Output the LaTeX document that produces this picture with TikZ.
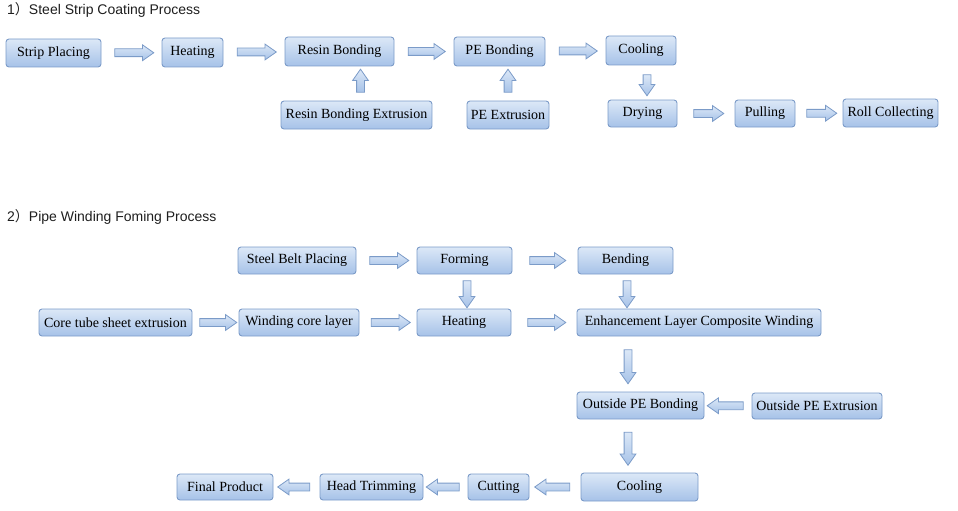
\documentclass[tikz,border=0pt]{standalone}
\usepackage{fontspec}
\setmainfont{Liberation Serif}
\newfontfamily\ttlsans{Liberation Sans}
\newfontfamily\cjk{Noto Sans CJK SC}
\usetikzlibrary{shapes.arrows,calc}
\definecolor{boxtop}{HTML}{DCE8F7}
\definecolor{boxbot}{HTML}{A6C2E8}
\definecolor{bdr}{HTML}{7B9BC8}
\definecolor{ttl}{HTML}{1E1E1E}
\tikzset{
  box/.style={draw=bdr, line width=0.9pt, rounded corners=3pt, top color=boxtop, bottom color=boxbot,
    inner sep=0pt, font=\fontsize{14pt}{16pt}\selectfont, text=black},
  barrow/.style={single arrow, draw=bdr, line width=0.8pt, top color=boxtop, bottom color=boxbot,
    inner xsep=0pt, inner ysep=3.5pt, single arrow head extend=4pt, single arrow tip angle=70,
    single arrow head indent=0pt},
  ttlstyle/.style={anchor=west, inner sep=0pt, text=ttl, font=\ttlsans\fontsize{14pt}{16pt}\selectfont},
}
\begin{document}
\begin{tikzpicture}[x=1pt,y=-1pt]
\useasboundingbox (0,0) rectangle (958,511);

% ---------- titles
\node[ttlstyle] (t1) at (7,10) {1{\cjk ）}Steel Strip Coating Process};
\node[ttlstyle] (t2) at (7,217) {2{\cjk ）}Pipe Winding Foming Process};

% ---------- part 1
\node[box, minimum width=95pt, minimum height=28pt] (sp) at (53.5,53) {Strip Placing};
\node[box, minimum width=61pt, minimum height=29pt] (heat) at (192.5,52.5) {Heating};
\node[box, minimum width=109pt, minimum height=29pt] (rb) at (339.5,51.5) {Resin Bonding};
\node[box, minimum width=91pt, minimum height=29pt] (peb) at (499.5,51.5) {PE Bonding};
\node[box, minimum width=70pt, minimum height=29pt] (cool) at (641,50.5) {Cooling};
\node[box, minimum width=69pt, minimum height=27pt] (dry) at (642.5,113.5) {Drying};
\node[box, minimum width=60pt, minimum height=27pt] (pull) at (765,113.5) {Pulling};
\node[box, minimum width=95pt, minimum height=28pt] (roll) at (890.5,113) {Roll Collecting};
\node[box, minimum width=151pt, minimum height=28pt] (rbe) at (356.5,115) {Resin Bonding Extrusion};
\node[box, minimum width=82pt, minimum height=28pt] (pee) at (508,115) {PE Extrusion};

\path (sp.east) -- node[barrow, minimum height=39pt]{} (heat.west);
\path (heat.east) -- node[barrow, minimum height=39pt]{} (rb.west);
\path (rb.east) -- node[barrow, minimum height=37pt]{} (peb.west);
\path (peb.east) -- node[barrow, minimum height=38pt]{} (cool.west);
\path (dry.east) -- node[barrow, minimum height=30pt]{} (pull.west);
\path (pull.east) -- node[barrow, minimum height=30pt]{} (roll.west);
\path ($(rbe.north)+(4,0)$) -- node[barrow, rotate=90, minimum height=23pt]{} ($(rbe.north |- rb.south)+(4,0)$);
\path (pee.north) -- node[barrow, rotate=90, minimum height=23pt]{} (pee.north |- peb.south);
\path ($(cool.south)+(6,0)$) -- node[barrow, rotate=-90, minimum height=21pt]{} ($(cool.south |- dry.north)+(6,0)$);

% ---------- part 2
\node[box, minimum width=118pt, minimum height=27pt] (sbp) at (297,260.5) {Steel Belt Placing};
\node[box, minimum width=95pt, minimum height=27pt] (form) at (464.5,260.5) {Forming};
\node[box, minimum width=95pt, minimum height=27pt] (bend) at (625.5,260.5) {Bending};
\node[box, minimum width=153pt, minimum height=27pt] (ctse) at (115.5,322.5) {Core tube sheet extrusion};
\node[box, minimum width=120pt, minimum height=27pt] (wcl) at (299,322.5) {Winding core layer};
\node[box, minimum width=94pt, minimum height=27pt] (heat2) at (464,322.5) {Heating};
\node[box, minimum width=244pt, minimum height=27pt] (elcw) at (699,322.5) {Enhancement Layer Composite Winding};
\node[box, minimum width=127pt, minimum height=27pt] (opb) at (640.5,405.5) {Outside PE Bonding};
\node[box, minimum width=130pt, minimum height=26pt] (ope) at (817,406) {Outside PE Extrusion};
\node[box, minimum width=117pt, minimum height=28pt] (cool2) at (639.5,487) {Cooling};
\node[box, minimum width=61pt, minimum height=26pt] (cut) at (498.5,487) {Cutting};
\node[box, minimum width=103pt, minimum height=26pt] (ht) at (371.5,487) {Head Trimming};
\node[box, minimum width=96pt, minimum height=26pt] (fp) at (225,487) {Final Product};

\path (sbp.east) -- node[barrow, minimum height=39pt]{} (form.west);
\path (form.east) -- node[barrow, minimum height=36pt]{} (bend.west);
\path (ctse.east) -- node[barrow, minimum height=37pt]{} (wcl.west);
\path (wcl.east) -- node[barrow, minimum height=39pt]{} (heat2.west);
\path (heat2.east) -- node[barrow, minimum height=38pt]{} (elcw.west);
\path ($(form.south)+(2.5,0)$) -- node[barrow, rotate=-90, minimum height=27pt]{} ($(form.south |- heat2.north)+(2.5,0)$);
\path ($(bend.south)+(1.5,0)$) -- node[barrow, rotate=-90, minimum height=27pt]{} ($(bend.south |- elcw.north)+(1.5,0)$);
\path ($(opb.north |- elcw.south)+(-12.5,0)$) -- node[barrow, rotate=-90, minimum height=34pt]{} ($(opb.north)+(-12.5,0)$);
\path (ope.west) -- node[barrow, rotate=180, minimum height=36pt]{} (opb.east);
\path ($(opb.south)+(-12.5,0)$) -- node[barrow, rotate=-90, minimum height=33pt]{} ($(opb.south |- cool2.north)+(-12.5,0)$);
\path (cool2.west) -- node[barrow, rotate=180, minimum height=35pt]{} (cut.east);
\path (cut.west) -- node[barrow, rotate=180, minimum height=33pt]{} (ht.east);
\path (ht.west) -- node[barrow, rotate=180, minimum height=32pt]{} (fp.east);
\end{tikzpicture}
\end{document}
